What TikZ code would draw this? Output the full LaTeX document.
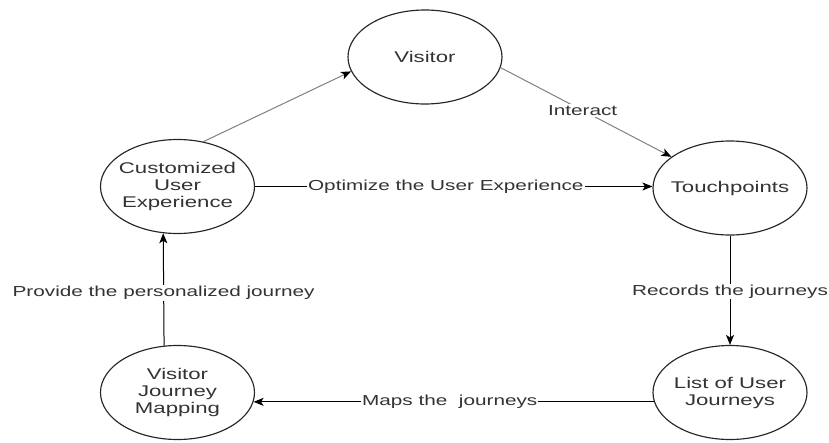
\documentclass[tikz,border=0pt]{standalone}
\usepackage{fontspec}
\setmainfont{Liberation Sans}[FakeStretch=1.43]
\usetikzlibrary{shapes.geometric,arrows.meta}
\begin{document}
\begin{tikzpicture}[x=1pt,y=-1pt,
  state/.style={ellipse,draw=black!85,line width=1.15pt,minimum width=154pt,minimum height=94pt,inner sep=0pt},
  inner/.style={align=center,text=black!80,inner sep=0pt,font=\fontsize{15.5}{17}\selectfont},
  lbl/.style={fill=white,inner sep=1pt,text=black!80,font=\fontsize{14.5}{17}\selectfont},
  conn/.style={line width=1pt,-{Stealth[length=10pt,width=8pt,inset=2.5pt,color=black]}},
  diag/.style={conn,draw=black!50}
]
\useasboundingbox (0,0) rectangle (829,442);
\node[state,label={[inner]center:Visitor}] (vis) at (425,57) {};
\node[state,label={[inner]center:Customized\\User\\Experience}] (cue) at (177.5,186.5) {};
\node[state,label={[inner]center:Touchpoints}] (tp) at (730,188) {};
\node[state,label={[inner]center:List of User\\Journeys}] (lst) at (730,392.5) {};
\node[state,label={[inner]center:Visitor\\Journey\\Mapping}] (vjm) at (177.5,392.5) {};

\draw[diag] (cue.60) -- (vis.191);
\draw[diag] (vis.-8) -- node[lbl,pos=0.48]{Interact} (tp.152);
\draw[conn] (cue.east) -- node[lbl,pos=0.48]{Optimize the User Experience} (cue.east -| tp.west);
\draw[conn] (tp.south) -- node[lbl,pos=0.51]{Records the journeys} (lst.north);
\draw[conn] (lst.187.6) -- node[lbl,pos=0.51]{Maps the\ \ journeys} (vjm.-7.6);
\draw[conn] (vjm.106.7) -- node[lbl,pos=0.47]{Provide the personalized journey} (cue.253.3);
\end{tikzpicture}
\end{document}
